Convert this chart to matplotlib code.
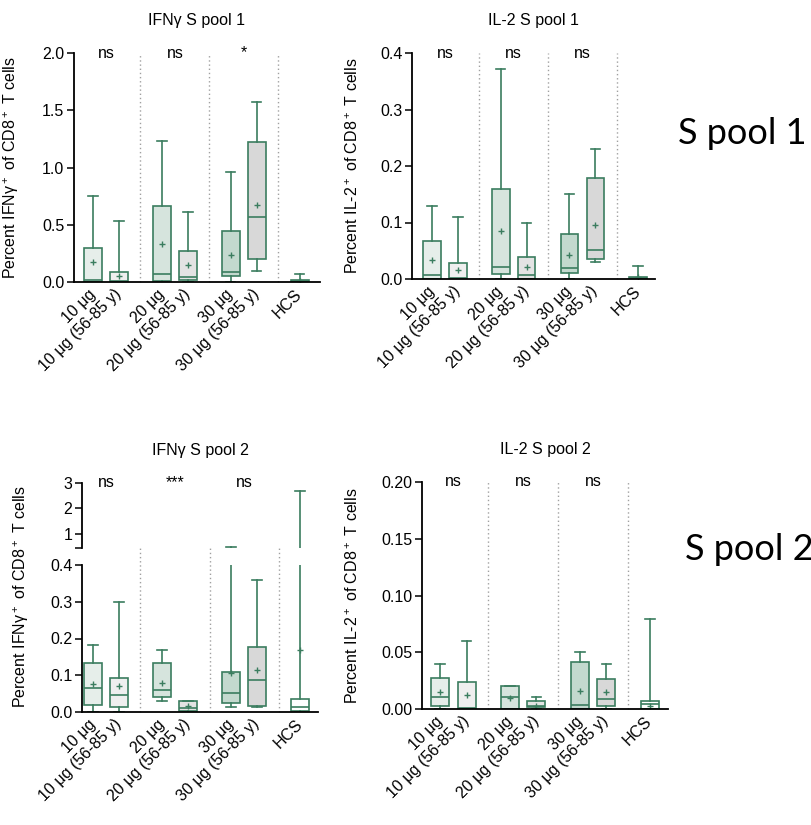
import matplotlib
matplotlib.use('Agg')
import matplotlib.pyplot as plt

plt.rcParams['font.family'] = ['Liberation Sans', 'DejaVu Sans']
plt.rcParams['mathtext.default'] = 'regular'

W, H = 812, 825

# groups / tick labels
LABELS = ['10 μg', '10 μg (56-85 y)', '20 μg', '20 μg (56-85 y)',
          '30 μg', '30 μg (56-85 y)', 'HCS']
POS = [0, 1, 2.65, 3.65, 5.3, 6.3, 7.95]
SEP = [1.825, 4.475, 7.125]
SIG_X = [0.5, 3.15, 5.8]

# IFNg S pool 1
IFNG1_LO = [0, 0, 0, 0, 0, 0.093, 0]
IFNG1_Q1 = [0, 0, 0.01, 0.015, 0.05, 0.20, 0]
IFNG1_MED = [0.015, 0.005, 0.073, 0.045, 0.088, 0.57, 0.005]
IFNG1_Q3 = [0.30, 0.088, 0.66, 0.27, 0.447, 1.22, 0.02]
IFNG1_HI = [0.75, 0.53, 1.23, 0.61, 0.96, 1.57, 0.073]
IFNG1_MEAN = [0.175, 0.05, 0.33, 0.15, 0.233, 0.67, 0.012]
IFNG1_SIG = ['ns', 'ns', '*']

# IL-2 S pool 1
IL2_1_LO = [0, 0, 0, 0, 0, 0.03, 0]
IL2_1_Q1 = [0, 0, 0.0094, 0, 0.011, 0.036, 0]
IL2_1_MED = [0.0076, 0.002, 0.021, 0.0076, 0.019, 0.052, 0.001]
IL2_1_Q3 = [0.068, 0.028, 0.159, 0.039, 0.079, 0.178, 0.003]
IL2_1_HI = [0.13, 0.11, 0.372, 0.10, 0.15, 0.23, 0.023]
IL2_1_MEAN = [0.033, 0.0165, 0.085, 0.021, 0.042, 0.095, 0.003]
IL2_1_SIG = ['ns', 'ns', 'ns']

# IFNg S pool 2
IFNG2_LO = [0, 0, 0.03, 0, 0.013, 0.014, 0]
IFNG2_Q1 = [0.018, 0.0135, 0.04, 0.004, 0.024, 0.016, 0.004]
IFNG2_MED = [0.066, 0.045, 0.059, 0.01, 0.051, 0.086, 0.013]
IFNG2_Q3 = [0.132, 0.093, 0.132, 0.03, 0.108, 0.178, 0.035]
IFNG2_HI = [0.183, 0.30, 0.17, 0.03, 0.5, 0.36, 2.7]
IFNG2_MEAN = [0.075, 0.07, 0.078, 0.016, 0.105, 0.113, 0.17]
IFNG2_SIG = ['ns', '***', 'ns']

# IL-2 S pool 2
IL2_2_LO = [0, 0, 0, 0, 0, 0, 0]
IL2_2_Q1 = [0.003, 0, 0, 0.002, 0, 0.0026, 0]
IL2_2_MED = [0.0106, 0.001, 0.0103, 0.003, 0.0035, 0.0088, 0.004]
IL2_2_Q3 = [0.027, 0.024, 0.020, 0.007, 0.041, 0.026, 0.007]
IL2_2_HI = [0.040, 0.060, 0.020, 0.0103, 0.050, 0.040, 0.079]
IL2_2_MEAN = [0.0147, 0.0126, 0.0097, 0.003, 0.016, 0.0147, 0.003]
IL2_2_SIG = ['ns', 'ns', 'ns']

EDGE = '#3b7d5f'
FILLS = ['#e6eeea', '#efefef', '#d6e4dd', '#e3e3e3', '#c3d9ce', '#d8d8d8', 'white']
SEP_COLOR = '#a0a0a0'
FS = 11.5

fig = plt.figure(figsize=(W / 100, H / 100), dpi=100)


def ax_at(l, r, b, t):
    return fig.add_axes([l / W, 1 - b / H, (r - l) / W, (b - t) / H])


def style(ax):
    for s in ('top', 'right'):
        ax.spines[s].set_visible(False)
    for s in ('left', 'bottom'):
        ax.spines[s].set_linewidth(1.3)
    ax.tick_params(axis='y', length=5, width=1.1, labelsize=FS, pad=2)


def draw_boxes(ax, lo, q1, med, q3, hi, mean):
    stats = [dict(whislo=a, q1=b, med=c, q3=d, whishi=e, mean=f, fliers=[])
             for a, b, c, d, e, f in zip(lo, q1, med, q3, hi, mean)]
    bp = ax.bxp(stats, positions=POS, widths=0.68, capwidths=0.36,
                showmeans=True, showfliers=False, patch_artist=True,
                manage_ticks=False,
                boxprops=dict(edgecolor=EDGE, linewidth=1.2),
                whiskerprops=dict(color=EDGE, linewidth=1.2),
                capprops=dict(color=EDGE, linewidth=1.2),
                medianprops=dict(color=EDGE, linewidth=1.2),
                meanprops=dict(marker='+', markeredgecolor=EDGE,
                               markersize=4, markeredgewidth=1))
    for patch, fc in zip(bp['boxes'], FILLS):
        patch.set_facecolor(fc)


def xlabels(ax):
    ax.set_xticks(POS)
    ax.set_xticklabels(LABELS, rotation=45, ha='right', va='center',
                       rotation_mode='anchor', fontsize=FS)
    ax.tick_params(axis='x', length=0, pad=7)


def seps(ax, top=1.0):
    for x in SEP:
        ax.plot([x, x], [0, top], transform=ax.get_xaxis_transform(),
                color=SEP_COLOR, ls=(0, (1, 2)), lw=1, clip_on=False, zorder=0)


def sig(ax, labels):
    for x, s in zip(SIG_X, labels):
        ax.text(x, 1.0, s, transform=ax.get_xaxis_transform(),
                ha='center', va='center', fontsize=FS)


def panel(l, r, b, t, x0, x1, ylim, yticks, fmt, data, sigs, title, ylab, lab_off):
    ax = ax_at(l, r, b, t)
    style(ax)
    draw_boxes(ax, *data)
    ax.set_xlim(x0, x1)
    ax.set_ylim(*ylim)
    ax.set_yticks(yticks)
    ax.set_yticklabels([fmt.format(v) for v in yticks])
    xlabels(ax)
    seps(ax)
    sig(ax, sigs)
    ax.set_title(title, fontsize=FS, pad=20)
    ax.set_ylabel(ylab, fontsize=FS)
    ax.yaxis.set_label_coords(-lab_off / (r - l), 0.5)
    return ax


# top left
panel(74, 320, 282, 53, -0.73, 8.73, (0, 2.0), [0, 0.5, 1.0, 1.5, 2.0], '{:.1f}',
      (IFNG1_LO, IFNG1_Q1, IFNG1_MED, IFNG1_Q3, IFNG1_HI, IFNG1_MEAN),
      IFNG1_SIG, 'IFNγ S pool 1', 'Percent IFNγ$^+$ of CD8$^+$ T cells', 53)

# top right
panel(412, 655, 279, 53, -0.77, 8.6, (0, 0.4), [0, 0.1, 0.2, 0.3, 0.4], '{:.1f}',
      (IL2_1_LO, IL2_1_Q1, IL2_1_MED, IL2_1_Q3, IL2_1_HI, IL2_1_MEAN),
      IL2_1_SIG, 'IL-2 S pool 1', 'Percent IL-2$^+$ of CD8$^+$ T cells', 51)

# bottom left, broken axis
ifng2 = (IFNG2_LO, IFNG2_Q1, IFNG2_MED, IFNG2_Q3, IFNG2_HI, IFNG2_MEAN)
lo_ax = ax_at(82, 318, 712, 565)
up_ax = ax_at(82, 318, 548, 483)
for ax in (lo_ax, up_ax):
    style(ax)
    draw_boxes(ax, *ifng2)
    ax.set_xlim(-0.42, 8.64)
lo_ax.set_ylim(0, 0.4)
lo_ax.set_yticks([0, 0.1, 0.2, 0.3, 0.4])
lo_ax.set_yticklabels(['0.0', '0.1', '0.2', '0.3', '0.4'])
xlabels(lo_ax)
seps(lo_ax, top=(712 - 483) / (712 - 565))
up_ax.set_ylim(0.45, 3)
up_ax.set_yticks([0.45, 1, 2, 3])
up_ax.set_yticklabels(['', '1', '2', '3'])
up_ax.spines['bottom'].set_visible(False)
up_ax.set_xticks([])
sig(up_ax, IFNG2_SIG)
up_ax.set_title('IFNγ S pool 2', fontsize=FS, pad=20)
fig.text(21 / W, 1 - 597 / H, 'Percent IFNγ$^+$ of CD8$^+$ T cells',
         rotation=90, ha='center', va='center', fontsize=FS)

# bottom right
panel(422, 668, 709, 482, -0.69, 8.64, (0, 0.2), [0, 0.05, 0.10, 0.15, 0.20], '{:.2f}',
      (IL2_2_LO, IL2_2_Q1, IL2_2_MED, IL2_2_Q3, IL2_2_HI, IL2_2_MEAN),
      IL2_2_SIG, 'IL-2 S pool 2', 'Percent IL-2$^+$ of CD8$^+$ T cells', 61)

# row labels
fig.text(678 / W, 1 - 133 / H, 'S pool 1', fontsize=26, family='Lato',
         ha='left', va='center')
fig.text(685 / W, 1 - 550 / H, 'S pool 2', fontsize=26, family='Lato',
         ha='left', va='center')

fig.savefig('out.png', dpi=100)
